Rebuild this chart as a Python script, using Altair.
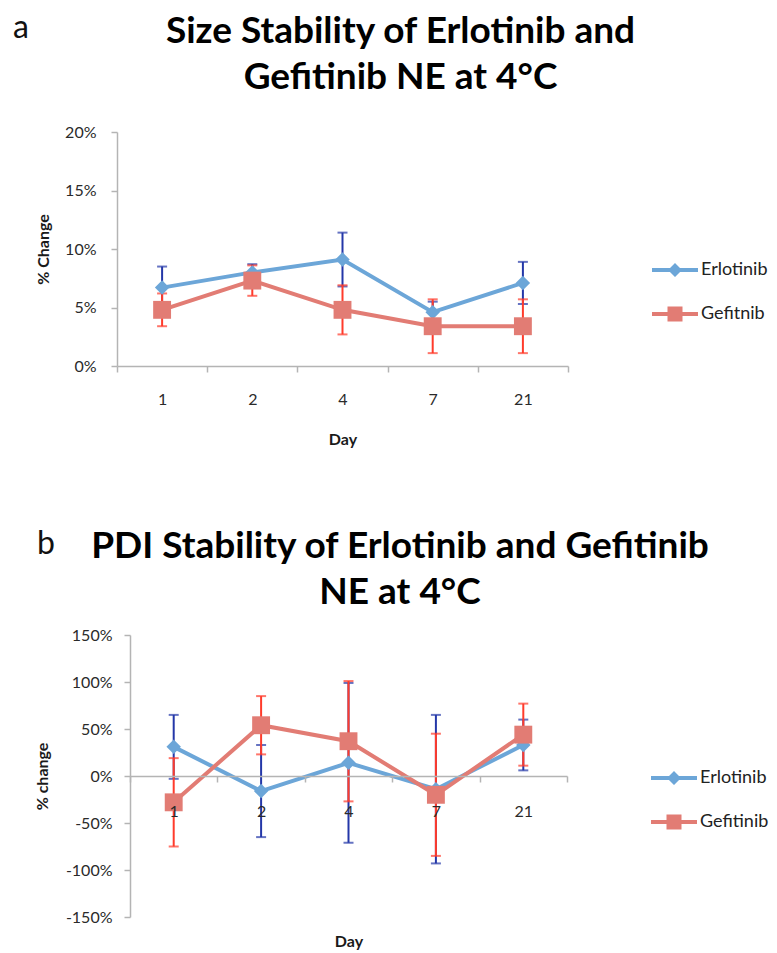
import altair as alt
import pandas as pd

# ---------------- data ----------------
days = ["1", "2", "4", "7", "21"]
series_a = ["Erlotinib", "Gefitnib"]
series_b = ["Erlotinib", "Gefitinib"]

size_erl = [6.7, 8.0, 9.1, 4.6, 7.1]
size_erl_err = [1.8, 0.7, 2.3, 0.9, 1.8]
size_gef = [4.8, 7.3, 4.8, 3.4, 3.4]
size_gef_err = [1.4, 1.3, 2.1, 2.3, 2.3]

pdi_erl = [31, -16, 14, -14, 33]
pdi_erl_err = [34, 49, 85, 79, 27]
pdi_gef = [-28, 54, 37, -20, 44]
pdi_gef_err = [47, 31, 64, 65, 33]

ticks_a = [0, 5, 10, 15, 20]
ticks_b = [-150, -100, -50, 0, 50, 100, 150]

title_a = ["Size Stability of Erlotinib and", "Gefitinib NE at 4°C"]
title_b = ["PDI Stability of Erlotinib and Gefitinib", "NE at 4°C"]

# ---------------- style ----------------
FONT = "Lato"
COLORS = ["#6CA6D8", "#E27C74"]
ERR_COLORS = ["#2437A8", "#FF3B2B"]
SHAPES = ["diamond", "square"]
SIZES = [210, 320]
LEG_PATHS = [
    "M-4.6,-0.4H4.6V0.4H-4.6Z M0,-1.4L1.4,0L0,1.4L-1.4,0Z",
    "M-4.6,-0.4H4.6V0.4H-4.6Z M-1.5,-1.5H1.5V1.5H-1.5Z",
]
AXIS_GRAY = "#B4B4B4"


def series_df(vals, errs, name):
    return pd.DataFrame({
        "day": days,
        "series": name,
        "legend_series": name,
        "value": vals,
        "lo": [v - e for v, e in zip(vals, errs)],
        "hi": [v + e for v, e in zip(vals, errs)],
    })


def panel(vals, errs, names, ticks, width, height, xscale, xaxis, yaxis,
          title, title_dx, title_offset, letter, letter_xy, leg_xy):
    ydom = [ticks[0], ticks[-1]]
    yscale = alt.Scale(domain=ydom, nice=False, zero=False)

    def X():
        return alt.X("day:N", sort=days, scale=xscale, axis=xaxis)

    def Y(field):
        return alt.Y(f"{field}:Q", scale=yscale, axis=yaxis)

    layers = []
    dfs = [series_df(v, e, n) for v, e, n in zip(vals, errs, names)]
    # error bars
    for i, df in enumerate(dfs):
        base = alt.Chart(df)
        layers.append(base.mark_rule(color=ERR_COLORS[i], strokeWidth=2).encode(
            x=X(), y=Y("lo"), y2="hi:Q"))
        layers.append(base.mark_tick(color=ERR_COLORS[i], thickness=2, size=10).encode(
            x=X(), y=Y("hi")))
        layers.append(base.mark_tick(color=ERR_COLORS[i], thickness=2, size=10).encode(
            x=X(), y=Y("lo")))
    # lines and markers
    for i, df in enumerate(dfs):
        base = alt.Chart(df)
        layers.append(base.mark_line(color=COLORS[i], strokeWidth=4).encode(
            x=X(), y=Y("value")))
        layers.append(base.mark_point(shape=SHAPES[i], filled=True, color=COLORS[i],
                                      size=SIZES[i], opacity=1).encode(
            x=X(), y=Y("value")))
    # invisible carrier for the legend
    leg = alt.Legend(orient="none", legendX=leg_xy[0], legendY=leg_xy[1], title=None,
                     symbolSize=100, symbolStrokeWidth=0, symbolOpacity=1,
                     labelFont=FONT, labelFontSize=18, labelColor="#222222",
                     labelOffset=17, rowPadding=26, padding=0)
    all_df = pd.concat(dfs, ignore_index=True)
    layers.append(alt.Chart(all_df).mark_point(filled=True, opacity=0).encode(
        x=X(), y=Y("value"),
        color=alt.Color("legend_series:N", scale=alt.Scale(domain=names, range=COLORS), legend=leg),
        shape=alt.Shape("legend_series:N", scale=alt.Scale(domain=names, range=LEG_PATHS), legend=leg),
    ))
    # panel letter
    layers.append(alt.Chart(pd.DataFrame({"t": [letter]})).mark_text(
        align="left", baseline="middle", font=FONT, fontSize=32, color="#111111").encode(
        text="t:N", x=alt.value(letter_xy[0]), y=alt.value(letter_xy[1])))

    return alt.layer(*layers).properties(
        width=width, height=height,
        title=alt.TitleParams(text=title, font=FONT, fontSize=37, fontWeight="bold",
                              color="#000000", anchor="middle", frame="group",
                              dx=title_dx, offset=title_offset, lineHeight=46),
    )


common_axis = dict(domainColor=AXIS_GRAY, domainWidth=1.5, tickColor=AXIS_GRAY, tickWidth=1.5,
                   tickSize=6, grid=False, labelFont=FONT, labelFontSize=16, labelColor="#2A2A2A",
                   titleFont=FONT, titleFontSize=16, titleFontWeight="bold", titleColor="#1A1A1A")

# ---------- panel a ----------
WA, HA = 451, 234
xaxis_a = alt.Axis(title="Day", labelAngle=0, tickBand="extent", labelPadding=19,
                   titleY=73, titleBaseline="middle", **common_axis)
yaxis_a = alt.Axis(title="% Change", values=ticks_a, labelExpr="datum.value + '%'",
                   labelPadding=15, titleX=-74, titleY=HA / 2, titleAngle=270,
                   titleAlign="center", titleBaseline="middle", **common_axis)
xscale_a = alt.Scale(domain=days, paddingInner=0, paddingOuter=0)
pa = panel([size_erl, size_gef], [size_erl_err, size_gef_err], series_a, ticks_a,
           WA, HA, xscale_a, xaxis_a, yaxis_a, title_a, 58, -85, "a", (-104, -104), (549, 129))

# ---------- panel b ----------
WB, HB = 450, 282
xaxis_b = alt.Axis(title="Day", labelAngle=0, tickBand="extent", labelPadding=21,
                   offset=-HB / 2, zindex=1, titleY=HB / 2 + 24, titleBaseline="middle",
                   **common_axis)
yaxis_b = alt.Axis(title="% change", values=ticks_b, labelExpr="datum.value + '%'",
                   labelPadding=12, offset=-13, titleX=-88, titleY=HB / 2, titleAngle=270,
                   titleAlign="center", titleBaseline="middle", **common_axis)
xscale_b = alt.Scale(domain=days, range=[13, 450], paddingInner=0, paddingOuter=0)
pb = panel([pdi_erl, pdi_gef], [pdi_erl_err, pdi_gef_err], series_b, ticks_b,
           WB, HB, xscale_b, xaxis_b, yaxis_b, title_b, 58, -84, "b", (-80, -91), (548, 134))

chart = alt.vconcat(pa, pb, spacing=269, bounds="flush").resolve_scale(
    color="independent", shape="independent"
).properties(
    padding={"left": 13, "top": 12, "right": 2, "bottom": 2},
    background="white",
).configure_view(stroke=None)

chart.save("out.html", embed_options={"renderer": "svg", "actions": False})
